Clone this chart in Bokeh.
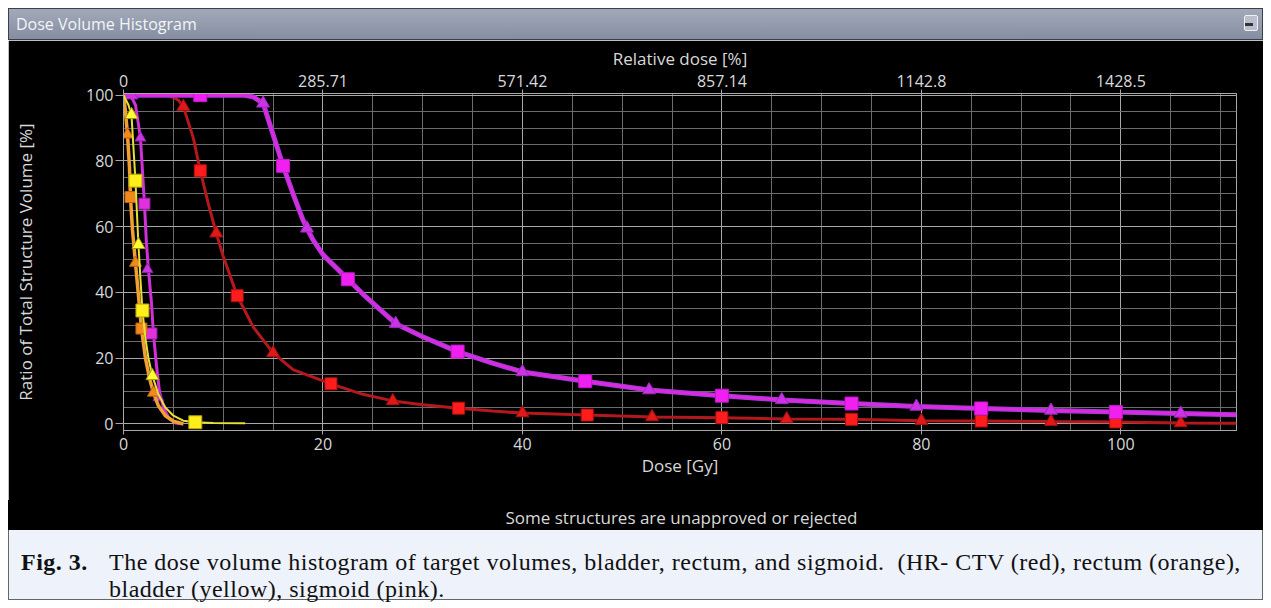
from bokeh.plotting import figure
from bokeh.models import Range1d, LinearAxis, SingleIntervalTicker, FixedTicker, Div
from bokeh.layouts import column
from bokeh.embed import file_html
from bokeh.resources import INLINE

# ---------------- data ----------------
dose_ticks = [0, 20, 40, 60, 80, 100]
rel_dose_labels = ["0", "285.71", "571.42", "857.14", "1142.8", "1428.5"]

# HR-CTV (red)
ctv_dose = [0, 4.5, 5.5, 6, 7, 7.7, 8.5, 9.3, 10, 11.4, 13, 15, 17, 20.8, 24, 27, 30,
            33.6, 37, 40, 46.5, 53, 60, 66.5, 73, 80, 86, 93, 99.5, 106, 111.6]
ctv_vol = [100, 100, 98.5, 96.5, 87, 77, 67, 58, 51, 39, 29.5, 21.6, 16.5, 12.2, 9, 7, 5.8,
           4.8, 3.9, 3.3, 2.7, 2.1, 1.9, 1.5, 1.4, 1.0, 0.9, 0.7, 0.6, 0.3, 0.2]
ctv_sq_dose = [7.7, 11.4, 20.8, 33.6, 46.5, 60, 73, 86, 99.5]
ctv_sq_vol = [77, 39, 12.2, 4.8, 2.7, 1.9, 1.4, 0.9, 0.6]
ctv_tri_dose = [6, 9.3, 15, 27, 40, 53, 66.5, 80, 93, 106]
ctv_tri_vol = [96.5, 58, 21.6, 7, 3.3, 2.1, 1.5, 1.0, 0.7, 0.3]

# high magenta curve
mag_dose = [0, 12, 13, 14, 15, 16, 17, 18, 18.4, 19, 20, 22.5, 24, 27.3, 30, 33.5, 37, 40,
            46.3, 52.7, 60, 66, 73, 79.5, 86, 93, 99.5, 106, 111.6]
mag_vol = [100, 100, 99.5, 97.5, 88, 78.5, 70, 62, 59.5, 56, 51.5, 44, 39.5, 30.5, 26.5, 22,
           18.5, 15.8, 13, 10.3, 8.6, 7.3, 6.2, 5.3, 4.7, 4.1, 3.6, 3.2, 2.8]
mag_sq_dose = [7.7, 16, 22.5, 33.5, 46.3, 60, 73, 86, 99.5]
mag_sq_vol = [100, 78.5, 44, 22, 13, 8.6, 6.2, 4.7, 3.6]
mag_tri_dose = [0.8, 14, 18.4, 27.3, 40, 52.7, 66, 79.5, 93, 106]
mag_tri_vol = [100, 97.5, 59.5, 30.5, 15.8, 10.3, 7.3, 5.3, 4.1, 3.2]

# sigmoid (pink, low)
sig_dose = [0, 0.7, 1.2, 1.7, 2.1, 2.3, 2.5, 2.8, 3.0, 3.3, 3.6, 4.0, 4.5, 5.2, 6]
sig_vol = [100, 100, 97, 87, 67, 55, 47, 37, 27.5, 18, 10, 5, 2, 0.3, 0]
sig_sq_dose = [2.1, 2.8]
sig_sq_vol = [67, 27.5]
sig_tri_dose = [1.7, 2.4, 3.5]
sig_tri_vol = [87, 47, 8]

# rectum (orange)
rec_dose = [0, 0.2, 0.4, 0.6, 0.7, 0.9, 1.2, 1.5, 1.8, 2.2, 2.6, 3.0, 3.5, 4.2, 5.0, 6]
rec_vol = [100, 95, 88, 78, 69, 59, 49, 39, 29, 20, 14, 9.5, 5.5, 2.5, 0.8, 0]
rec_sq_dose = [0.7, 1.8]
rec_sq_vol = [69, 29]
rec_tri_dose = [0.4, 1.2, 3.0]
rec_tri_vol = [88, 49, 9.5]

# bladder (yellow)
bla_dose = [0, 0.5, 0.8, 1.0, 1.2, 1.35, 1.5, 1.7, 1.9, 2.2, 2.5, 2.9, 3.5, 4.2, 5, 6, 7.2, 9, 12.2]
bla_vol = [100, 97, 94, 84, 74, 64, 54.5, 44, 34.5, 26, 20, 14.6, 9, 5, 2.5, 1, 0.5, 0.3, 0.2]
bla_sq_dose = [1.2, 1.9, 7.2]
bla_sq_vol = [74, 34.5, 0.5]
bla_tri_dose = [0.8, 1.5, 2.9]
bla_tri_vol = [94, 54.5, 14.6]

window_title = "Dose Volume Histogram"
notice_text = "Some structures are unapproved or rejected"
caption_label = "Fig. 3."
caption_line1 = "The dose volume histogram of target volumes, bladder, rectum, and sigmoid.  (HR- CTV (red), rectum (orange),"
caption_line2 = "bladder (yellow), sigmoid (pink)."

W = 1255
UI_FONT = "Open Sans"
TXT = "#d9d9d9"

# ---------------- title bar ----------------
title_html = (
    '<div style="position:relative; width:%dpx; height:32px; box-sizing:border-box; '
    'border:1px solid #3a3f4a; background:linear-gradient(#a2a9b9, #858ea2); '
    "font-family:'Open Sans'; font-size:16px; color:#f3f5f8; line-height:30px;\">"
    '<span style="position:absolute; left:7px; top:0px;">%s</span>'
    '<span style="position:absolute; right:4px; top:6px; width:14px; height:16px; '
    'border:1.5px solid #eef0f4; border-radius:2px; background:#b9bfcc;"></span>'
    '<span style="position:absolute; right:9px; top:14px; width:8px; height:3px; background:#333;"></span>'
    '</div>' % (W, window_title))
tdiv = Div(text=title_html, width=W, height=32, styles={"margin": "0", "padding": "0"})

# ---------------- main chart ----------------
p = figure(width=W, height=460, x_range=Range1d(0, 111.6), y_range=Range1d(-2, 100.5),
           output_backend="svg", toolbar_location=None,
           background_fill_color="black", border_fill_color="black",
           min_border_left=115, min_border_right=27, min_border_top=53, min_border_bottom=70,
           outline_line_color="#a8a8a8")

p.xaxis.ticker = SingleIntervalTicker(interval=20, num_minor_ticks=4)
p.yaxis.ticker = SingleIntervalTicker(interval=20, num_minor_ticks=4)
for g in (p.xgrid, p.ygrid):
    g.grid_line_color = "#a8a8a8"
    g.grid_line_width = 1
    g.minor_grid_line_color = "#6c6c6c"
    g.minor_grid_line_width = 1

for ax in (p.xaxis, p.yaxis):
    ax.axis_line_color = "#a8a8a8"
    ax.major_tick_line_color = "#a8a8a8"
    ax.minor_tick_line_color = None
    ax.major_tick_in = 0
    ax.major_label_text_font = UI_FONT
    ax.major_label_text_font_size = "16px"
    ax.major_label_text_color = TXT
    ax.axis_label_text_font = UI_FONT
    ax.axis_label_text_font_size = "17px"
    ax.axis_label_text_font_style = "normal"
    ax.axis_label_text_color = TXT

p.xaxis.axis_label = "Dose [Gy]"
p.xaxis.major_tick_out = 4
p.xaxis.major_label_standoff = 3
p.xaxis.axis_label_standoff = 1
p.yaxis.axis_label = "Ratio of Total Structure Volume [%]"
p.yaxis.major_tick_out = 8
p.yaxis.major_label_standoff = 2
p.yaxis.axis_label_standoff = 46

top = LinearAxis(ticker=FixedTicker(ticks=dose_ticks),
                 major_label_overrides={t: lab for t, lab in zip(dose_ticks, rel_dose_labels)},
                 axis_label="Relative dose [%]")
top.axis_line_color = "#a8a8a8"
top.major_tick_line_color = "#a8a8a8"
top.minor_tick_line_color = None
top.major_tick_in = 0
top.major_tick_out = 4
top.major_label_standoff = 3
top.axis_label_standoff = 2
top.major_label_text_font = UI_FONT
top.major_label_text_font_size = "16px"
top.major_label_text_color = TXT
top.axis_label_text_font = UI_FONT
top.axis_label_text_font_size = "17px"
top.axis_label_text_font_style = "normal"
top.axis_label_text_color = TXT
p.add_layout(top, "above")

# HR-CTV red
p.line(ctv_dose, ctv_vol, line_color="#b3191c", line_width=3)
p.scatter(ctv_sq_dose, ctv_sq_vol, marker="square", size=12, fill_color="#ff1c1c", line_color="#b01010")
p.scatter(ctv_tri_dose, ctv_tri_vol, marker="triangle", size=13, fill_color="#e01818", line_color="#a01010")

# magenta high curve
p.line(mag_dose, mag_vol, line_color="#a83ad8", line_width=5)
p.line(mag_dose, mag_vol, line_color="#e028e0", line_width=2.5)
p.scatter(mag_sq_dose, mag_sq_vol, marker="square", size=13, fill_color="#f020f0", line_color="#c018c8")
p.scatter(mag_tri_dose, mag_tri_vol, marker="triangle", size=13, fill_color="#cc33e6", line_color="#9a2ab8")

# sigmoid pink low
p.line(sig_dose, sig_vol, line_color="#d030d8", line_width=3)
p.scatter(sig_sq_dose, sig_sq_vol, marker="square", size=11, fill_color="#e030e0", line_color="#a020a8")
p.scatter(sig_tri_dose, sig_tri_vol, marker="triangle", size=11, fill_color="#c838e0", line_color="#9020a8")

# rectum orange
p.line(rec_dose, rec_vol, line_color="#f0a030", line_width=3.5)
p.scatter(rec_sq_dose, rec_sq_vol, marker="square", size=11, fill_color="#f08a1c", line_color="#c06010")
p.scatter(rec_tri_dose, rec_tri_vol, marker="triangle", size=12, fill_color="#f08a1c", line_color="#c06010")

# bladder yellow
p.line(bla_dose, bla_vol, line_color="#e6e03a", line_width=2)
p.scatter(bla_sq_dose, bla_sq_vol, marker="square", size=13, fill_color="#ffee1a", line_color="#b0a010")
p.scatter(bla_tri_dose, bla_tri_vol, marker="triangle", size=13, fill_color="#ffff33", line_color="#a09a10")

# ---------------- notice line ----------------
notice_html = (
    '<div style="width:%dpx; height:30px; box-sizing:border-box; background:#000; '
    "padding:3px 0 0 92px; text-align:center; font-family:'Open Sans'; font-size:17px; "
    'line-height:30px; color:%s;">%s</div>' % (W, TXT, notice_text))
ndiv = Div(text=notice_html, width=W, height=30, styles={"margin": "0", "padding": "0"})

# ---------------- caption ----------------
caption_html = (
    '<div style="position:relative; width:%dpx; height:70px; box-sizing:border-box; '
    'background:#eef2fb; border:1px solid #666; border-top:none; '
    "font-family:'Liberation Serif'; font-size:24px; letter-spacing:0.5px; color:#111; line-height:27px;\">"
    '<span style="position:absolute; left:12px; top:19px; font-weight:bold;">%s</span>'
    '<div style="position:absolute; left:100px; top:19px; white-space:pre;">%s<br>%s</div>'
    '</div>' % (W, caption_label, caption_line1, caption_line2))
cdiv = Div(text=caption_html, width=W, height=70, styles={"margin": "0", "padding": "0"})

layout = column(tdiv, p, ndiv, cdiv, spacing=0, styles={"margin": "8px 0 0 8px"})
open("out.html", "w").write(file_html(layout, INLINE))
